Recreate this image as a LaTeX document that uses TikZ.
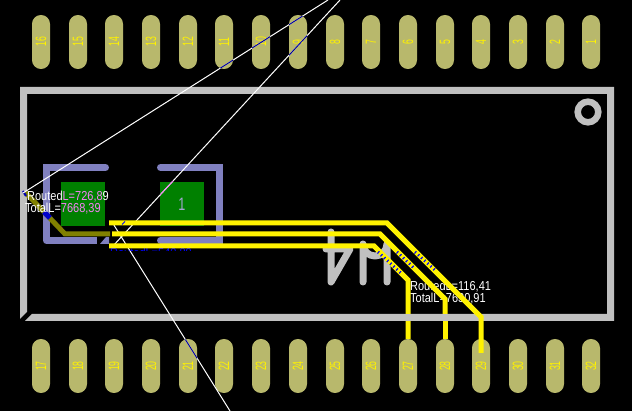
\documentclass[tikz,border=0pt]{standalone}
\usepackage{fontspec}
\setmainfont{Liberation Sans}
\definecolor{padcol}{RGB}{184,184,108}
\definecolor{boardcol}{RGB}{192,192,192}
\definecolor{keepcol}{RGB}{128,128,192}
\definecolor{greencol}{RGB}{0,128,0}
\definecolor{olivecol}{RGB}{128,128,0}
\definecolor{pinkcol}{RGB}{245,130,245}
\tikzset{
  pad/.style={fill=padcol, text=yellow, rotate=90, minimum width=54pt, minimum height=18pt, inner sep=0pt, rounded corners=8.9pt, font=\fontsize{15}{15}\selectfont},
  silk/.style={draw=boardcol, line width=7pt, line cap=round, line join=round},
  bracket/.style={draw=keepcol, line width=7pt, line cap=round},
  trace/.style={draw=yellow, line width=5pt},
  rat/.style={draw=white, line width=1pt},
  ratpad/.style={draw=blue!60!black, line width=1pt},
  lenlabel/.style={text=white, anchor=base west, inner sep=0pt, transform shape, xscale=0.846, font=\fontsize{13}{13}\selectfont},
  hatch/.style={draw=blue, line width=3pt, dash pattern=on 1.2pt off 3pt}
}
\begin{document}
\begin{tikzpicture}[x=1pt,y=-1pt]
  \fill[black] (0,0) rectangle (632,411); % background
  \useasboundingbox (0,0) rectangle (632,411);

  \coordinate (ratAa) at (328,0); % airwires
  \coordinate (ratAb) at (23,193);
  \coordinate (ratBa) at (340,0);
  \coordinate (ratBb) at (113,246);
  \coordinate (ratCa) at (112,222);
  \coordinate (ratCb) at (230,411);

  % pads, top and bottom row
  \foreach \n/\x in {16/41,15/78,14/114,13/151,12/188,11/224,10/261,9/298,8/335,7/371,6/408,5/445,4/481,3/518,2/555,1/591}
    \node[pad] (p\n) at (\x,42) {\scalebox{.58}[1]{\n}};
  \foreach \n/\x in {17/41,18/78,19/114,20/151,21/188,22/224,23/261,24/298,25/335,26/371,27/408,28/445,29/481,30/518,31/555,32/591}
    \node[pad] (p\n) at (\x,366) {\scalebox{.58}[1]{\n}};

  % board outline
  \fill[boardcol] (20,319) -- (20,87) -- (614,87) -- (614,321) -- (25,321) -- (32,314) -- (607,314) -- (607,94) -- (27,94) -- (27,312) -- cycle;
  \draw[boardcol, line width=6.5pt] (588,112) circle (10.3); % hole

  % U14 silk
  \draw[silk] (331,232) -- (331,282) -- (350,249) -- (326,249);
  \draw[silk] (363,282) -- (363,244) arc (180:0:12) -- (387,282);

  % part with two brackets
  \fill[greencol] (61,182) rectangle (105,226);
  \fill[greencol] (160,182) rectangle (204,226);
  \node[text=keepcol!70!white, inner sep=0pt, font=\fontsize{18}{18}\selectfont] (one) at (182,204) {\scalebox{.7}[1]{1}};
  \draw[bracket] (105.5,167.5) -- (46.5,167.5) -- (46.5,240.5);
  \draw[bracket, line cap=butt] (46.5,240.5) -- (97,240.5);
  \fill[keepcol] (100,244) -- (106,237) -- (109,237) -- (109,244) -- cycle;
  \draw[bracket] (160.5,167.5) -- (219.5,167.5) -- (219.5,240.5) -- (160.5,240.5);

  \draw[olivecol, line width=5pt] (25,192) -- (65,234) -- (110,234); % olive track
  \draw[blue!80!black, line width=5pt] (44,212) -- (50,218);
  \draw[blue!70!black, line width=2pt] (23,191) -- (26,196);

  \draw[rat] (ratAa) -- (ratAb);
  \draw[rat] (ratBa) -- (ratBb);
  \draw[rat] (ratCa) -- (ratCb);

  % airwires seen over the pads
  \foreach \x/\y in {298/42,261/42,224/42,188/366} {
    \begin{scope}
      \clip[rounded corners=8.9pt] (\x-9,\y-27) rectangle (\x+9,\y+27);
      \draw[ratpad] (ratAa) -- (ratAb);
      \draw[ratpad] (ratBa) -- (ratBb);
      \draw[ratpad] (ratCa) -- (ratCb);
    \end{scope}
  }
  \begin{scope}
    \clip (160,182) rectangle (204,226);
    \draw[pinkcol, line width=1pt] (ratBa) -- (ratBb);
  \end{scope}

  % length labels
  \node[lenlabel] (lenAa) at (27,200.5) {Routed\textcolor{pinkcol}{L=726,8}9};
  \node[lenlabel] (lenAb) at (25,213) {TotalL=\textcolor{pinkcol}{7668,39}};
  \node[lenlabel] (lenBa) at (410,290.5) {RoutedL=116,41};
  \node[lenlabel] (lenBb) at (410,303) {TotalL=7630,91};
  \begin{scope}
    \clip (108,246) rectangle (198,251);
    \node[lenlabel, text=blue] (lenC) at (110,258) {RoutedL=540,89};
  \end{scope}

  % tracks to 27, 28, 29
  \draw[trace] (109,246) -- (374,246) -- (408,280) -- (p27.east);
  \draw[trace] (112,234) -- (380,234) -- (445,299) -- (445,318);
  \draw[trace] (p28.east) -- (445,321);
  \draw[boardcol, line width=7pt] (400,317.5) -- (460,317.5);
  \draw[trace] (109,223) -- (387,223) -- (481,317) -- (481,353);

  \draw[hatch] (378,252) -- (402,274);
  \draw[hatch] (397,252) -- (415,269);
  \draw[hatch] (415,252) -- (435,270);
  \draw[hatch, line width=1pt, dash pattern=] (122,224.5) -- (125,221.5);
\end{tikzpicture}
\end{document}
